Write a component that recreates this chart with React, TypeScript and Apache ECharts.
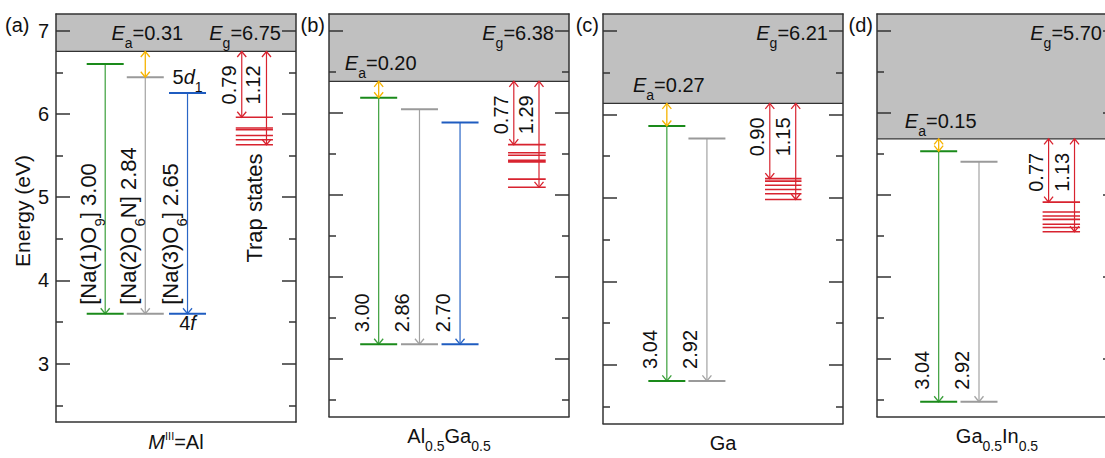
import React, { useEffect, useRef } from 'react';
import * as echarts from 'echarts';

// ---------------- data ----------------
const panelTags = ['(a)', '(b)', '(c)', '(d)'];
const hostNames = ['{it|M}{sup|III}=Al', 'Al{sub|0.5}Ga{sub|0.5}', 'Ga', 'Ga{sub|0.5}In{sub|0.5}'];
const bandGapLabels = ['6.75', '6.38', '6.21', '5.70'];
const cbEdge = [6.75, 6.38, 6.13, 5.68];
const eaLabels = ['0.31', '0.20', '0.27', '0.15'];
const eaSite = [1, 0, 0, 0];

const level5dA = [6.60, 6.44, 6.25];
const level5dB = [6.18, 6.04, 5.88];
const level5dC = [5.86, 5.71];
const level5dD = [5.53, 5.40];
const level5d = [level5dA, level5dB, level5dC, level5dD];
const level4f = [3.60, 3.18, 2.81, 2.48];

const transitionA = ['3.00', '2.84', '2.65'];
const transitionB = ['3.00', '2.86', '2.70'];
const transitionC = ['3.04', '2.92'];
const transitionD = ['3.04', '2.92'];
const transitionLabels = [transitionA, transitionB, transitionC, transitionD];
const siteLabels = ['[Na(1)O{sub|9}]', '[Na(2)O{sub|6}N]', '[Na(3)O{sub|6}]'];

const trapDepthA = [0.79, 1.12];
const trapDepthB = [0.77, 1.29];
const trapDepthC = [0.90, 1.15];
const trapDepthD = [0.77, 1.13];
const trapDepths = [trapDepthA, trapDepthB, trapDepthC, trapDepthD];

const trapLevelsA = [5.96, 5.83, 5.81, 5.74, 5.69, 5.63];
const trapLevelsB = [5.61, 5.51, 5.48, 5.42, 5.40, 5.19, 5.09];
const trapLevelsC = [5.23, 5.20, 5.15, 5.10, 5.05, 4.98];
const trapLevelsD = [4.91, 4.79, 4.74, 4.70, 4.64, 4.60, 4.55];
const trapLevels = [trapLevelsA, trapLevelsB, trapLevelsC, trapLevelsD];

const yTicksMajor = [3, 4, 5, 6, 7];
const yTicksMinor = [2.5, 3.5, 4.5, 5.5, 6.5];

// ---------------- layout / style ----------------
const Y_MIN = 2.3;
const Y_MAX = 7.2;
const GRID_LEFT = [56, 329, 603, 877];
const GRID_W = 240;
const GRID_TOP = 14;
const GRID_H = 410;

const SLOT_X = [[0.205, 0.372, 0.548], [0.207, 0.377, 0.546], [0.266, 0.433], [0.257, 0.425]];
const TRAP_X = [[0.749, 0.904], [0.746, 0.903], [0.675, 0.827], [0.69, 0.846]];
const TRAP_ARROW_X = [[0.774, 0.877], [0.77, 0.875], [0.695, 0.803], [0.715, 0.823]];
const TRAP_LABEL_E = 4.87;

const LVL_HW = 18.5;
const AH_W = 4.5;
const AH_H = 5.5;

const AX = '#333333';
const TXT = '#111111';
const BAND = '#c0c0c0';
const RED = '#d8232f';
const ORANGE = '#f6b300';
const SITE_COLORS = [
  { level: '#1a8a1a', line: '#3a9f3a' },
  { level: '#9a9a9a', line: '#a3a3a3' },
  { level: '#1f5cc0', line: '#2a66c6' },
];
const FONT = '"Liberation Sans", Arial, Helvetica, sans-serif';
const FS = 20;
const FS_BIG = 22;

function makeZrRich(fs: number) {
  return {
    it: { fontSize: fs, fontFamily: FONT, fontStyle: 'italic', lineHeight: fs, fill: TXT },
    sub: { fontSize: Math.round(fs * 0.7), fontFamily: FONT, lineHeight: 14, padding: [fs, 0, 0, 0], fill: TXT },
    sup: { fontSize: 11, fontFamily: FONT, lineHeight: 11, padding: [0, 0, 12, 0], fill: TXT },
  };
}
const ecRich: any = {
  it: { fontSize: FS, fontFamily: FONT, fontStyle: 'italic', lineHeight: FS, color: TXT },
  sub: { fontSize: 14, fontFamily: FONT, lineHeight: 14, padding: [20, 0, 0, 0], color: TXT },
  sup: { fontSize: 11, fontFamily: FONT, lineHeight: 11, padding: [0, 0, 12, 0], color: TXT },
};

function line(x1: number, y1: number, x2: number, y2: number, color: string, w: number) {
  return { type: 'line', shape: { x1, y1, x2, y2 }, style: { stroke: color, lineWidth: w } };
}
function chevron(x: number, y: number, dir: number, color: string) {
  return {
    type: 'polyline',
    shape: { points: [[x - AH_W, y - dir * AH_H], [x, y], [x + AH_W, y - dir * AH_H]] },
    style: { stroke: color, lineWidth: 1.3, fill: 'none' },
  };
}
function txt(x: number, y: number, text: string, align: string, vAlign: string, rotation = 0, fs = FS) {
  return {
    type: 'text',
    x,
    y,
    rotation,
    style: {
      text,
      fill: TXT,
      fontSize: fs,
      fontFamily: FONT,
      lineHeight: fs,
      align,
      verticalAlign: vAlign,
      rich: makeZrRich(fs),
    },
  };
}

function buildOption() {
  const grid: any[] = [];
  const xAxis: any[] = [];
  const yAxis: any[] = [];
  const series: any[] = [];
  const axLine = { show: true, onZero: false, lineStyle: { color: AX, width: 1.5 } };

  for (let p = 0; p < 4; p++) {
    grid.push({ left: GRID_LEFT[p], top: GRID_TOP, width: GRID_W, height: GRID_H });
    xAxis.push({
      gridIndex: p, type: 'value', min: 0, max: 1, position: 'bottom', z: 10,
      axisLine: axLine, axisTick: { show: false }, axisLabel: { show: false }, splitLine: { show: false },
      name: hostNames[p], nameLocation: 'middle', nameGap: 19.5,
      nameTextStyle: { fontSize: FS, fontFamily: FONT, color: TXT, lineHeight: FS, verticalAlign: 'middle', align: 'center', rich: ecRich },
    });
    xAxis.push({
      gridIndex: p, type: 'value', min: 0, max: 1, position: 'top', z: 10,
      axisLine: axLine, axisTick: { show: false }, axisLabel: { show: false }, splitLine: { show: false },
    });
    const common = { gridIndex: p, type: 'value', min: Y_MIN, max: Y_MAX, z: 10, splitLine: { show: false } };
    yAxis.push({
      ...common, position: 'left', axisLine: axLine,
      axisTick: { show: true, inside: true, length: 14, customValues: yTicksMajor, lineStyle: { color: AX, width: 1.5 } },
      axisLabel: { show: p === 0, customValues: yTicksMajor, fontSize: FS, fontFamily: FONT, color: TXT, margin: 7 },
      name: p === 0 ? 'Energy (eV)' : '', nameLocation: 'middle', nameGap: 34,
      nameTextStyle: { fontSize: 21, fontFamily: FONT, color: TXT, verticalAlign: 'middle', align: 'center', padding: [0, 0, 0, 14] },
    });
    yAxis.push({
      ...common, position: 'left', axisLine: { show: false, onZero: false },
      axisTick: { show: true, inside: true, length: 7, customValues: yTicksMinor, lineStyle: { color: AX, width: 1.5 } },
      axisLabel: { show: false },
    });
    yAxis.push({
      ...common, position: 'right', axisLine: axLine,
      axisTick: { show: true, inside: true, length: 14, customValues: yTicksMajor, lineStyle: { color: AX, width: 1.5 } },
      axisLabel: { show: false },
    });
    yAxis.push({
      ...common, position: 'right', axisLine: { show: false, onZero: false },
      axisTick: { show: true, inside: true, length: 7, customValues: yTicksMinor, lineStyle: { color: AX, width: 1.5 } },
      axisLabel: { show: false },
    });

    const axes = { xAxisIndex: p * 2, yAxisIndex: p * 4 };

    // conduction band (gray) + Eg label
    series.push({
      type: 'custom', ...axes, z: 1, silent: true, clip: false,
      data: [[0, cbEdge[p]]],
      renderItem: (params: any, api: any) => {
        const tl = api.coord([0, Y_MAX]);
        const br = api.coord([1, api.value(1)]);
        return {
          type: 'group',
          children: [
            { type: 'rect', shape: { x: tl[0], y: tl[1], width: br[0] - tl[0], height: br[1] - tl[1] }, style: { fill: BAND } },
            { type: 'line', shape: { x1: tl[0], y1: br[1], x2: br[0], y2: br[1] }, style: { stroke: AX, lineWidth: 1.2 } },
            txt(br[0] - 15, tl[1] + 19, '{it|E}{sub|g}=' + bandGapLabels[p], 'right', 'middle'),
          ],
        };
      },
    });

    // Ce3+ sites: 5d1 and 4f levels with emission arrows
    series.push({
      type: 'custom', ...axes, z: 3, silent: true, clip: false,
      data: level5d[p].map((e, i) => [i, e, level4f[p]]),
      renderItem: (params: any, api: any) => {
        const i = params.dataIndex;
        const sx = SLOT_X[p][i];
        const top = api.coord([sx, api.value(1)]);
        const bot = api.coord([sx, api.value(2)]);
        const x = top[0];
        const yTop = top[1];
        const yBot = bot[1];
        const c = SITE_COLORS[i];
        const label = p === 0 ? siteLabels[i] + ' ' + transitionLabels[p][i] : transitionLabels[p][i];
        const children: any[] = [
          line(x, yTop, x, yBot, c.line, 1.2),
          chevron(x, yBot, 1, c.line),
          line(x - LVL_HW, yTop, x + LVL_HW, yTop, c.level, 2),
          line(x - LVL_HW, yBot, x + LVL_HW, yBot, c.level, 2),
          p === 0
            ? txt(x - 17, yBot - 9, label, 'left', 'middle', Math.PI / 2, FS_BIG)
            : txt(x - 17, yBot - 12, label, 'left', 'middle', Math.PI / 2),
        ];
        if (p === 0 && i === 2) {
          children.push(txt(x, yTop - 16, '5{it|d}{sub|1}', 'center', 'middle'));
          children.push(txt(x, yBot + 9, '4{it|f}', 'center', 'middle'));
        }
        return { type: 'group', children };
      },
    });

    // Ea arrow
    series.push({
      type: 'custom', ...axes, z: 4, silent: true, clip: false,
      data: [[0, cbEdge[p], level5d[p][eaSite[p]]]],
      renderItem: (params: any, api: any) => {
        const sx = SLOT_X[p][eaSite[p]];
        const top = api.coord([sx, api.value(1)]);
        const bot = api.coord([sx, api.value(2)]);
        const x = top[0];
        return {
          type: 'group',
          children: [
            line(x, top[1], x, bot[1], ORANGE, 1.3),
            chevron(x, top[1], -1, ORANGE),
            chevron(x, bot[1], 1, ORANGE),
            txt(x + 2, top[1] - 18, '{it|E}{sub|a}=' + eaLabels[p], 'center', 'middle'),
          ],
        };
      },
    });

    // trap levels
    series.push({
      type: 'custom', ...axes, z: 3, silent: true, clip: false,
      data: trapLevels[p].map((e) => [0, e]),
      renderItem: (params: any, api: any) => {
        const a = api.coord([TRAP_X[p][0], api.value(1)]);
        const b = api.coord([TRAP_X[p][1], api.value(1)]);
        const children: any[] = [line(a[0], a[1], b[0], b[1], RED, 1.6)];
        if (p === 0 && params.dataIndex === 0) {
          const c = api.coord([(TRAP_X[p][0] + TRAP_X[p][1]) / 2, TRAP_LABEL_E]);
          children.push(txt(c[0], c[1], 'Trap states', 'center', 'middle', Math.PI / 2, FS_BIG));
        }
        return { type: 'group', children };
      },
    });

    // trap depth arrows
    series.push({
      type: 'custom', ...axes, z: 4, silent: true, clip: false,
      data: trapDepths[p].map((d, i) => [i, cbEdge[p], cbEdge[p] - d]),
      renderItem: (params: any, api: any) => {
        const i = params.dataIndex;
        const ax = TRAP_ARROW_X[p][i];
        const top = api.coord([ax, api.value(1)]);
        const bot = api.coord([ax, api.value(2)]);
        const x = top[0];
        return {
          type: 'group',
          children: [
            line(x, top[1], x, bot[1], RED, 1.2),
            chevron(x, top[1], -1, RED),
            chevron(x, bot[1], 1, RED),
            txt(x - 13, top[1] + 14, trapDepths[p][i].toFixed(2), 'right', 'middle', Math.PI / 2),
          ],
        };
      },
    });
  }

  const graphic = panelTags.map((t, p) => ({
    type: 'text',
    x: p === 0 ? 5 : GRID_LEFT[p] - 4,
    y: 25,
    style: { text: t, fill: TXT, fontSize: FS, fontFamily: FONT, align: p === 0 ? 'left' : 'right', verticalAlign: 'middle' },
  }));

  return { animation: false, backgroundColor: '#ffffff', grid, xAxis, yAxis, series, graphic };
}

export default function App() {
  const ref = useRef<HTMLDivElement>(null);
  useEffect(() => {
    const chart = echarts.init(ref.current as HTMLDivElement, undefined, { renderer: 'svg' });
    chart.setOption(buildOption() as any);
    return () => chart.dispose();
  }, []);
  return (
    <div
      ref={ref}
      style={{ position: 'fixed', left: 0, top: 0, width: 1130, height: 458, background: '#ffffff' }}
    />
  );
}
